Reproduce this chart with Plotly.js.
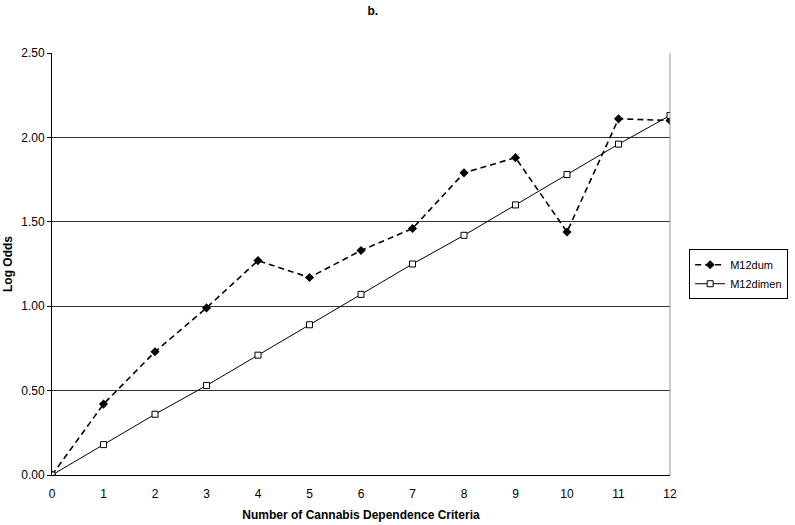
<!DOCTYPE html>
<html>
<head>
<meta charset="utf-8">
<script src="https://cdn.plot.ly/plotly-3.0.1.min.js"></script>
<style>
  body { margin: 0; background: #fff; }
  #chart { width: 795px; height: 525px; }
</style>
</head>
<body>
<div id="chart"></div>
<script>
var criteriaCounts = [0, 1, 2, 3, 4, 5, 6, 7, 8, 9, 10, 11, 12];
var dumValues = [0, 0.42, 0.73, 0.99, 1.27, 1.17, 1.33, 1.46, 1.79, 1.88, 1.44, 2.11, 2.10];
var dimenValues = [0, 0.18, 0.36, 0.53, 0.71, 0.89, 1.07, 1.25, 1.42, 1.60, 1.78, 1.96, 2.13];
var yTickValues = [0, 0.5, 1, 1.5, 2, 2.5];

var baseFont = { family: "Liberation Sans, Arial, sans-serif", size: 12, color: "#000" };
var boldFont = { family: "Liberation Sans, Arial, sans-serif", size: 12, color: "#000" };
var legendFont = { family: "Liberation Sans, Arial, sans-serif", size: 11, color: "#000" };

var traces = [
  {
    x: criteriaCounts,
    y: dumValues,
    name: "M12dum",
    type: "scatter",
    mode: "lines+markers",
    line: { color: "#000", width: 1.6, dash: "6px,4px" },
    marker: { symbol: "diamond", size: 7, color: "#000" },
  },
  {
    x: criteriaCounts,
    y: dimenValues,
    name: "M12dimen",
    type: "scatter",
    mode: "lines+markers",
    line: { color: "#000", width: 1 },
    marker: { symbol: "square", size: 6, color: "#fff", line: { color: "#000", width: 1 } },
  },
];

var layout = {
  width: 795,
  height: 525,
  margin: { l: 52, r: 125, t: 53, b: 50, autoexpand: false },
  paper_bgcolor: "#fff",
  plot_bgcolor: "#fff",
  font: baseFont,
  title: {
    text: "<b>b.</b>",
    font: boldFont,
    xref: "container",
    x: 0.469,
    y: 0.979,
    yanchor: "middle",
  },
  xaxis: {
    range: [0, 12],
    tickvals: criteriaCounts,
    ticks: "",
    ticklabelstandoff: 8,
    showgrid: false,
    zeroline: false,
    showline: true,
    linecolor: "#000",
    linewidth: 1,
    tickfont: baseFont,
    title: { text: "<b>Number of Cannabis Dependence Criteria</b>", font: boldFont, standoff: 10 },
  },
  yaxis: {
    range: [0, 2.5],
    tickvals: yTickValues,
    tickformat: ".2f",
    ticks: "outside",
    ticklen: 4,
    tickcolor: "#000",
    showgrid: true,
    gridcolor: "#333",
    gridwidth: 1,
    zeroline: false,
    showline: true,
    linecolor: "#000",
    linewidth: 1,
    tickfont: baseFont,
    title: { text: "<b>Log Odds</b>", font: boldFont, standoff: 6 },
  },
  shapes: [
    {
      type: "line",
      xref: "paper",
      yref: "paper",
      x0: 1,
      x1: 1,
      y0: 0,
      y1: 1,
      line: { color: "#999", width: 1 },
    },
  ],
  showlegend: true,
  legend: {
    x: 1.031,
    xanchor: "left",
    y: 0.535,
    yanchor: "top",
    bordercolor: "#000",
    borderwidth: 1,
    bgcolor: "#fff",
    font: legendFont,
    tracegroupgap: 0,
    itemwidth: 30,
  },
};

Plotly.newPlot("chart", traces, layout, { displayModeBar: false, staticPlot: true });
</script>
</body>
</html>
